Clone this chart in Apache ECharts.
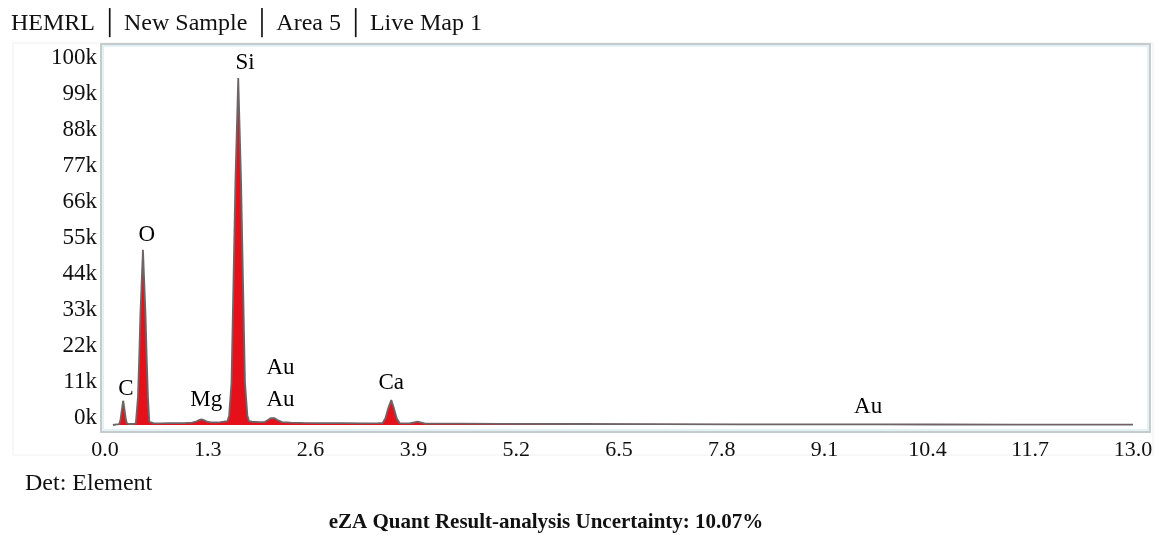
<!DOCTYPE html>
<html>
<head>
<meta charset="utf-8">
<script src="https://cdn.jsdelivr.net/npm/echarts@6/dist/echarts.min.js"></script>
<style>
html,body{margin:0;padding:0;background:#fff;}
#c{width:1159px;height:536px;}
</style>
</head>
<body>
<div id="c"></div>
<script>
// ---- data ----
const titleText = 'HEMRL │ New Sample │ Area 5 │ Live Map 1';
const detText = 'Det: Element';
const footerText = 'eZA Quant Result-analysis Uncertainty: 10.07%';

const yTickLabels = ['0k','11k','22k','33k','44k','55k','66k','77k','88k','99k','100k'];
const xTickLabels = ['0.0','1.3','2.6','3.9','5.2','6.5','7.8','9.1','10.4','11.7','13.0'];

// spectrum: energy (keV) and counts
const energy = [0.10,0.15,0.18,0.195,0.215,0.23,0.245,0.265,0.28,0.31,0.35,0.39,0.40,0.417,0.432,0.448,0.48,0.512,0.528,0.543,0.56,0.575,0.62,0.70,0.80,0.90,1.00,1.10,1.15,1.19,1.22,1.25,1.29,1.34,1.40,1.46,1.50,1.55,1.57,1.60,1.625,1.65,1.685,1.72,1.745,1.77,1.80,1.82,1.86,1.95,2.02,2.06,2.10,2.14,2.18,2.24,2.35,2.50,2.70,3.00,3.30,3.45,3.51,3.545,3.58,3.62,3.655,3.69,3.725,3.76,3.85,3.91,3.95,3.99,4.05,4.50,5.00,6.00,7.00,8.00,9.00,9.60,9.70,9.80,10.50,11.50,13.00];
const counts = [0,200,300,1500,5000,7500,5000,1500,400,300,300,500,1000,8600,20000,34000,53500,34000,20000,8600,1000,600,500,500,550,550,600,700,1000,1500,1700,1500,1000,800,800,900,1000,1200,3000,13000,44000,75000,106000,75000,44000,13000,3000,1200,1000,900,900,1500,2100,2100,1500,900,700,650,600,550,500,550,600,2000,5000,7600,5000,2000,600,500,500,800,1000,800,450,400,350,300,250,200,180,200,220,180,150,120,100];

// element labels: name, energy, counts where the label sits
const peakNames = ['C','O','Si','Mg','Au','Au','Ca','Au'];
const peakEnergy = [0.265,0.53,1.77,1.28,2.22,2.22,3.62,9.65];
const peakCounts = [11000,58000,110600,7600,17400,7600,12800,5500];

// ---- chart ----
const serif = '"Liberation Serif","Times New Roman",serif';
const specData = energy.map((e,i)=>[e,counts[i]]);
const labelData = peakNames.map((n,i)=>({value:[peakEnergy[i],peakCounts[i]], name:n}));

const chart = echarts.init(document.getElementById('c'), null, {renderer:'canvas'});
chart.setOption({
  animation:false,
  backgroundColor:'#ffffff',
  grid:{left:105, right:26, top:65, bottom:111, containLabel:false},
  graphic:[
    {type:'rect', z:-10, shape:{x:13,y:43,width:1140,height:412}, style:{fill:'none', stroke:'#f0f0f0', lineWidth:1}},
    {type:'rect', z:-5, shape:{x:101,y:44,width:1049,height:388}, style:{fill:'#ffffff', stroke:'#c6cbce', lineWidth:2}},
    {type:'rect', z:-4, shape:{x:103,y:46,width:1045,height:384}, style:{fill:'none', stroke:'#e2f1f4', lineWidth:2}},
    {type:'text', x:11, y:24, style:{text:titleText, font:'24px '+serif, fill:'#111', align:'left', verticalAlign:'middle', textAlign:'left', textVerticalAlign:'middle'}},
    {type:'text', x:25, y:484, style:{text:detText, font:'24px '+serif, fill:'#111', align:'left', verticalAlign:'middle', textAlign:'left', textVerticalAlign:'middle'}},
    {type:'text', x:546, y:523, style:{text:footerText, font:'bold 21px '+serif, fill:'#111', align:'center', verticalAlign:'middle', textAlign:'center', textVerticalAlign:'middle'}}
  ],
  xAxis:{
    type:'value', min:0, max:13, interval:1.3,
    axisLine:{show:false}, axisTick:{show:false}, splitLine:{show:false},
    axisLabel:{margin:14, color:'#111', fontFamily:serif, fontSize:22,
      formatter:(v)=>{const i=Math.round(v/1.3); return xTickLabels[i]!==undefined?xTickLabels[i]:'';}}
  },
  yAxis:{
    type:'value', min:0, max:110000, interval:11000,
    axisLine:{show:false}, axisTick:{show:false}, splitLine:{show:false},
    axisLabel:{margin:8, color:'#111', fontFamily:serif, fontSize:23, verticalAlign:'bottom', lineHeight:14,
      formatter:(v)=>{const i=Math.round(v/11000); return yTickLabels[i]!==undefined?yTickLabels[i]:'';}}
  },
  series:[
    {
      type:'line', data:specData, showSymbol:false, symbol:'none', smooth:false,
      lineStyle:{color:'#6e6466', width:1.8},
      areaStyle:{color:'#e5101a', opacity:1},
      z:3
    },
    {
      type:'scatter', data:labelData, symbolSize:0, clip:false, z:5,
      itemStyle:{opacity:1},
      label:{show:true, position:'inside', formatter:(p)=>p.name, color:'#000', opacity:1,
        fontFamily:serif, fontSize:23, backgroundColor:'#ffffff', padding:[0,2]}
    }
  ]
});
</script>
</body>
</html>
